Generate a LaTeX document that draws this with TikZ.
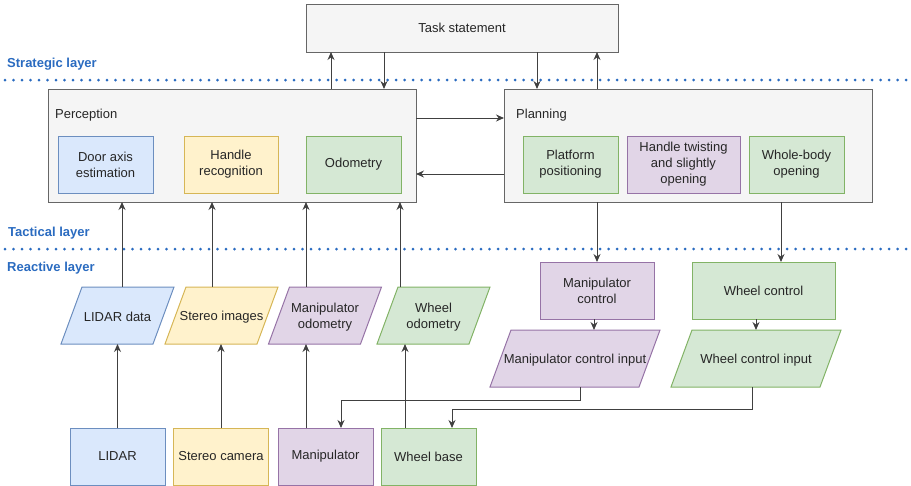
\documentclass[tikz,border=0pt]{standalone}
\usepackage{fontspec}
\setmainfont{Liberation Sans}
\usetikzlibrary{arrows.meta}
\definecolor{grayfill}{HTML}{F5F5F5}
\definecolor{graydraw}{HTML}{666666}
\definecolor{bluefill}{HTML}{DAE8FC}
\definecolor{bluedraw}{HTML}{6C8EBF}
\definecolor{yellowfill}{HTML}{FFF2CC}
\definecolor{yellowdraw}{HTML}{D6B656}
\definecolor{greenfill}{HTML}{D5E8D4}
\definecolor{greendraw}{HTML}{82B366}
\definecolor{purplefill}{HTML}{E1D5E7}
\definecolor{purpledraw}{HTML}{9673A6}
\definecolor{layercol}{HTML}{2A6BC0}
\tikzset{
  box/.style={rectangle, draw, line width=1pt, inner sep=0pt, outer sep=0pt, align=center},
  frame/.style={rectangle, inner sep=0pt, outer sep=0pt, minimum height=57},
  graybox/.style={fill=grayfill, draw=graydraw},
  bluebox/.style={fill=bluefill, draw=bluedraw},
  yellowbox/.style={fill=yellowfill, draw=yellowdraw},
  greenbox/.style={fill=greenfill, draw=greendraw},
  purplebox/.style={fill=purplefill, draw=purpledraw},
  arr/.style={-{Stealth[length=8pt,width=7pt]}, line width=1pt, draw=black!75},
  layerline/.style={draw=layercol, line width=3pt, line cap=round, dash pattern=on 0pt off 8.5pt},
  layerlabel/.style={anchor=west, inner sep=0pt, text=layercol, font=\fontsize{13}{16}\selectfont\bfseries}
}
\newcommand{\databox}[5]{%
  \node[frame, minimum width=#4] (#1) at (#3) {};
  \filldraw[#2, line width=1pt] ([xshift=10.5]#1.north west) -- ([xshift=10.5]#1.north east)
    -- ([xshift=-10.5]#1.south east) -- ([xshift=-10.5]#1.south west) -- cycle;
  \node[align=center, inner sep=0pt] (#1-text) at ([yshift=-1.5]#1.center) {#5};
}
\begin{document}
\begin{tikzpicture}[x=1pt, y=-1pt, font=\fontsize{13}{16}\selectfont, text=black!85]
  \useasboundingbox (0,0) rectangle (911,485);
  \draw[layerline] (5,80) -- (911,80);
  \draw[layerline] (5,249) -- (911,249);
  \node[layerlabel] (strategic) at (7,64) {Strategic layer};
  \node[layerlabel] (tactical) at (8,233) {Tactical layer};
  \node[layerlabel] (reactive) at (7,268) {Reactive layer};

  \node[box, graybox, minimum width=312, minimum height=48] (task) at (462,28) {Task statement};

  \node[box, graybox, minimum width=368, minimum height=113] (perception) at (232,145.5) {};
  \node[anchor=west, inner sep=0pt] (perctitle) at (55,115) {Perception};
  \node[box, bluebox, minimum width=95, minimum height=57] (doorax) at (105.5,164.5) {Door axis\\estimation};
  \node[box, yellowbox, minimum width=94, minimum height=57] (handlerec) at (231,164.5) {Handle\\recognition};
  \node[box, greenbox, minimum width=95, minimum height=57] (odom) at (353.5,164.5) {Odometry};

  \node[box, graybox, minimum width=368, minimum height=113] (planning) at (688,145.5) {};
  \node[anchor=west, inner sep=0pt] (plantitle) at (516,115) {Planning};
  \node[box, greenbox, minimum width=95, minimum height=57] (platform) at (570.5,164.5) {Platform\\positioning};
  \node[box, purplebox, minimum width=113, minimum height=57] (twisting) at (683.5,164.5) {Handle twisting\\and slightly\\opening};
  \node[box, greenbox, minimum width=95, minimum height=57] (wholebody) at (796.5,164.5) {Whole-body\\opening};

  \databox{lidardata}{bluebox}{117.5,315.5}{92}{LIDAR data}
  \databox{stereoimg}{yellowbox}{221.5,315.5}{92}{Stereo images}
  \databox{manipodom}{purplebox}{325,315.5}{92}{Manipulator\\odometry}
  \databox{wheelodom}{greenbox}{433.5,315.5}{92}{Wheel\\odometry}

  \node[box, bluebox, minimum width=95, minimum height=57] (lidar) at (117.5,456.5) {LIDAR};
  \node[box, yellowbox, minimum width=95, minimum height=57] (stereocam) at (221,456.5) {Stereo camera};
  \node[box, purplebox, minimum width=95, minimum height=57] (manip) at (325.5,456.5) {Manipulator};
  \node[box, greenbox, minimum width=95, minimum height=57] (wheelbase) at (428.5,456.5) {Wheel base};

  \node[box, purplebox, minimum width=114, minimum height=57] (manipctrl) at (597,290.5) {Manipulator\\control};
  \node[box, greenbox, minimum width=143, minimum height=57] (wheelctrl) at (763.5,290.5) {Wheel control};
  \databox{manipin}{purplebox}{575,358.5}{149}{Manipulator control input}
  \databox{wheelin}{greenbox}{756,358.5}{149}{Wheel control input}

  \draw[arr] ([xshift=99]perception.north) -- ([xshift=99]perception.north |- task.south);
  \draw[arr] ([xshift=152]perception.north |- task.south) -- ([xshift=152]perception.north);
  \draw[arr] ([xshift=-151]planning.north |- task.south) -- ([xshift=-151]planning.north);
  \draw[arr] ([xshift=-91]planning.north) -- ([xshift=-91]planning.north |- task.south);
  \draw[arr] ([yshift=27.5]perception.east) -- ([yshift=27.5]planning.west);
  \draw[arr] ([yshift=-28.5]planning.west) -- ([yshift=-28.5]perception.east);

  \draw[arr] ([xshift=4.5]lidardata.north) -- ([xshift=4.5]lidardata.north |- perception.south);
  \draw[arr] ([xshift=-9.5]stereoimg.north) -- ([xshift=-9.5]stereoimg.north |- perception.south);
  \draw[arr] ([xshift=-19]manipodom.north) -- ([xshift=-19]manipodom.north |- perception.south);
  \draw[arr] ([xshift=-33.5]wheelodom.north) -- ([xshift=-33.5]wheelodom.north |- perception.south);

  \draw[arr] (lidar.north) -- (lidar.north |- lidardata.south);
  \draw[arr] (stereocam.north) -- (stereocam.north |- stereoimg.south);
  \draw[arr] ([xshift=-19.5]manip.north) -- ([xshift=-19.5]manip.north |- manipodom.south);
  \draw[arr] ([xshift=-23.5]wheelbase.north) -- ([xshift=-23.5]wheelbase.north |- wheelodom.south);

  \draw[arr] (manipctrl.north |- planning.south) -- (manipctrl.north);
  \draw[arr] ([xshift=17.5]wheelctrl.north |- planning.south) -- ([xshift=17.5]wheelctrl.north);
  \draw[arr] ([xshift=-3]manipctrl.south) -- ([xshift=-3]manipctrl.south |- manipin.north);
  \draw[arr] (wheelin.north |- wheelctrl.south) -- (wheelin.north);
  \draw[arr] ([xshift=5]manipin.south) -- ++(0,13) -| ([xshift=15.5]manip.north);
  \draw[arr] ([xshift=-4]wheelin.south) -- ++(0,22) -| ([xshift=23.5]wheelbase.north);
\end{tikzpicture}
\end{document}
